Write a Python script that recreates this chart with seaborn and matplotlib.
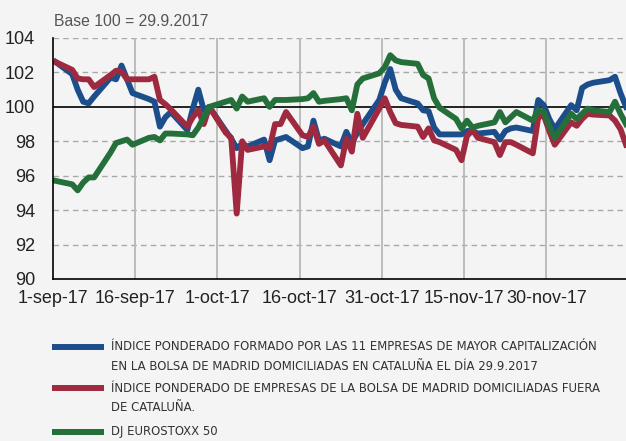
import pandas as pd
import numpy as np
import seaborn as sns
import matplotlib.pyplot as plt
from matplotlib.lines import Line2D
from matplotlib.ticker import FuncFormatter
import matplotlib.dates as mdates

# dias habiles 1-sep-2017 .. 14-dic-2017
fechas = pd.bdate_range("2017-09-01", "2017-12-14")

indice_cat = [
    102.6, 101.9, 101.0, 100.3, 100.2, 100.6, 101.7, 101.6, 102.4, 101.6, 100.8,
    100.45, 100.3, 98.85, 99.4, 99.7, 98.65, 99.9, 101.0, 99.8, 100.0,
    98.6, 98.15, 97.6, 97.85, 97.7, 98.1, 96.9, 98.05, 98.15, 98.25, 97.6,
    97.7, 99.2, 98.05, 98.15, 97.7, 98.55, 97.9, 98.5, 99.0, 100.4, 101.4,
    102.2, 101.0, 100.5, 100.2, 99.8, 99.75, 98.8, 98.4, 98.4, 98.4, 98.6,
    98.6, 98.45, 98.55, 98.1, 98.6, 98.75, 98.8, 98.6, 100.4, 100.1, 99.3,
    98.7, 100.1, 99.8, 101.1, 101.3, 101.4, 101.55, 101.75, 100.8, 100.0,
]
indice_resto = [
    102.6, 102.15, 101.65, 101.6, 101.6, 101.15, 101.85, 102.1, 102.05, 101.6, 101.6,
    101.6, 101.75, 100.4, 100.15, 99.85, 98.85, 99.4, 99.8, 99.0, 100.0,
    98.5, 98.2, 93.8, 98.0, 97.5, 97.7, 97.6, 99.0, 99.0, 99.7, 98.35,
    98.25, 98.85, 97.85, 98.05, 96.6, 98.15, 97.4, 99.6, 98.2, 99.9, 100.5,
    99.7, 99.05, 98.95, 98.85, 98.25, 98.75, 98.05, 97.95, 97.5, 96.9, 98.3,
    98.65, 98.2, 97.95, 97.2, 97.95, 97.95, 97.8, 97.3, 99.4, 99.5, 98.6,
    97.8, 99.1, 98.9, 99.3, 99.6, 99.55, 99.5, 99.2, 98.7, 97.8,
]
eurostoxx = [
    95.7, 95.5, 95.15, 95.6, 95.9, 95.9, 97.35, 97.9, 98.0, 98.1, 97.8,
    98.2, 98.25, 98.05, 98.45, 98.45, 98.4, 98.35, 98.8, 99.4, 100.0,
    100.3, 100.4, 99.9, 100.6, 100.3, 100.5, 100.0, 100.4, 100.4, 100.4, 100.45,
    100.5, 100.8, 100.3, 100.35, 100.45, 100.5, 99.8, 101.3, 101.65, 101.95, 102.3,
    103.0, 102.7, 102.6, 102.5, 101.85, 101.65, 100.5, 99.95, 99.3, 98.75, 99.2,
    98.8, 98.9, 99.1, 99.7, 99.1, 99.4, 99.7, 99.2, 99.8, 99.7, 98.9,
    98.2, 99.6, 99.3, 99.6, 99.9, 99.8, 99.7, 100.3, 99.6, 99.0,
]

etiquetas = [
    ["ÍNDICE PONDERADO FORMADO POR LAS 11 EMPRESAS DE MAYOR CAPITALIZACIÓN",
     "EN LA BOLSA DE MADRID DOMICILIADAS EN CATALUÑA EL DÍA 29.9.2017"],
    ["ÍNDICE PONDERADO DE EMPRESAS DE LA BOLSA DE MADRID DOMICILIADAS FUERA",
     "DE CATALUÑA."],
    ["DJ EUROSTOXX 50"],
]
colores = ["#1d4e8c", "#9f2a3f", "#25703a"]
ticks_x = ["2017-09-01", "2017-09-16", "2017-10-01", "2017-10-16",
           "2017-10-31", "2017-11-15", "2017-11-30"]
meses = {9: "sep", 10: "oct", 11: "nov", 12: "dic"}

series = ["cat", "resto", "stoxx"]
df = pd.DataFrame({"fecha": fechas + pd.Timedelta(hours=12),
                   "cat": indice_cat, "resto": indice_resto, "stoxx": eurostoxx})
largo = df.melt(id_vars="fecha", var_name="serie", value_name="valor")

plt.rcParams["font.family"] = ["Liberation Sans", "DejaVu Sans"]
fondo = "#f4f4f4"
fig = plt.figure(figsize=(6.26, 4.41), dpi=100, facecolor=fondo)
ax = fig.add_axes([53 / 626, 1 - 279 / 441, 573 / 626, 241 / 441])
ax.set_facecolor(fondo)

sns.lineplot(data=largo, x="fecha", y="valor", hue="serie", hue_order=series,
             palette=colores, linewidth=4.2, legend=False, ax=ax)

ax.set_ylim(90, 104)
ax.set_yticks(np.arange(90, 105, 2))
ax.set_xlim(pd.Timestamp("2017-09-01"), df["fecha"].iloc[-1])
ax.set_xticks(pd.to_datetime(ticks_x))
ax.xaxis.set_major_formatter(FuncFormatter(
    lambda v, p: "{}-{}-{:%y}".format(mdates.num2date(v).day, meses[mdates.num2date(v).month], mdates.num2date(v))))
ax.set_xlabel("")
ax.set_ylabel("")

for y in range(92, 105, 2):
    if y != 100:
        ax.axhline(y, color="#a8a8a8", lw=1, ls=(0, (4, 3)), zorder=0)
for t in pd.to_datetime(ticks_x[1:]):
    ax.axvline(t, color="#b8b8b8", lw=1.3, zorder=0)
ax.axhline(100, color="black", lw=1.2, zorder=1.5)

for s in ["top", "right"]:
    ax.spines[s].set_visible(False)
for s in ["left", "bottom"]:
    ax.spines[s].set_color("black")
    ax.spines[s].set_linewidth(1.2)
ax.tick_params(axis="both", length=0, labelsize=13, colors="#222222")
ax.tick_params(axis="y", pad=13)
ax.tick_params(axis="x", pad=8)

fig.text(54 / 626, 1 - 22 / 441, "Base 100 = 29.9.2017", fontsize=11.3,
         color="#555555", va="center", ha="left")

# leyenda
filas = [347, 388, 432]
textos = []
for color, lineas, y in zip(colores, etiquetas, filas):
    fig.add_artist(Line2D([52 / 626, 104 / 626], [1 - y / 441] * 2,
                          transform=fig.transFigure, color=color, lw=4.3,
                          solid_capstyle="butt"))
    for i, txt in enumerate(lineas):
        textos.append(fig.text(111 / 626, 1 - (y + i * 19.5) / 441, txt,
                               fontsize=10, color="#333333", va="center",
                               ha="left", family="DejaVu Sans",
                               fontstretch="condensed"))

# ajustar tamaño para que la primera linea ocupe lo mismo que en el original
fig.canvas.draw()
ancho = textos[0].get_window_extent(fig.canvas.get_renderer()).width
for t in textos:
    t.set_fontsize(10 * 489 / ancho)

fig.savefig("out.png", dpi=100, facecolor=fondo)
